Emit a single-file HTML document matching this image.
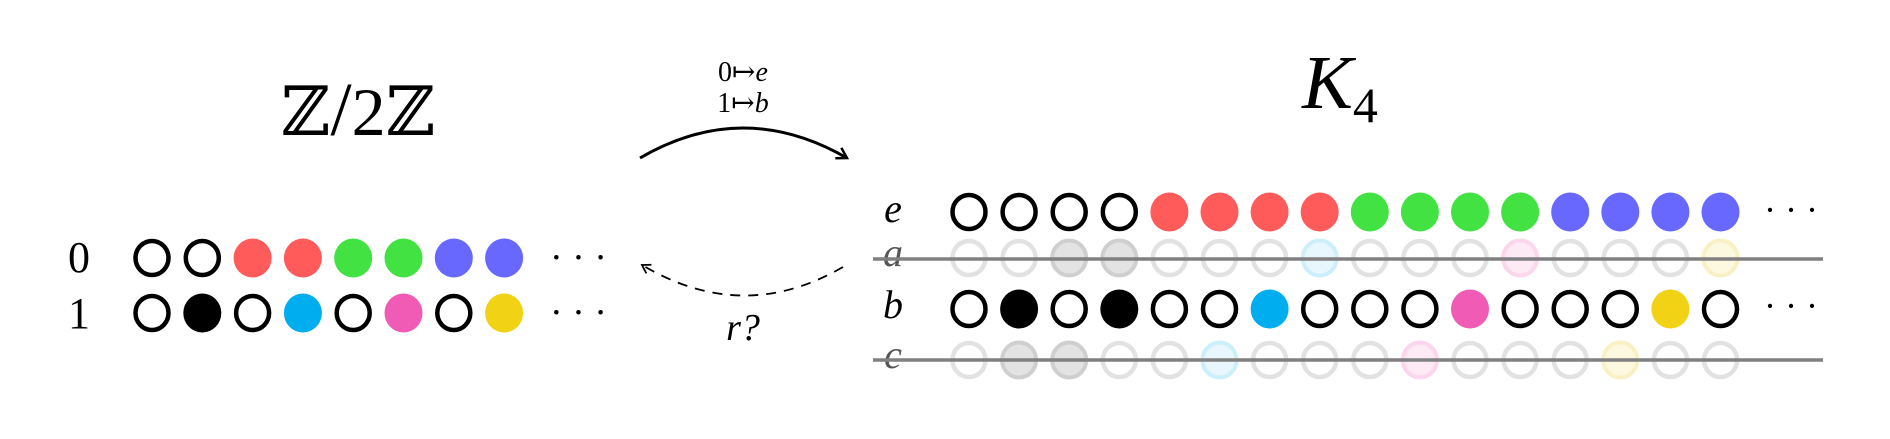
<!DOCTYPE html>
<html><head><meta charset="utf-8"><style>
html,body{margin:0;padding:0;background:#fff;}
svg{display:block;}
text{font-family:"Liberation Serif","DejaVu Serif",serif;}
</style></head><body>
<svg width="1890" height="439" viewBox="0 0 1890 439" xmlns="http://www.w3.org/2000/svg">
<defs>
<marker id="ah" markerWidth="16" markerHeight="16" refX="13" refY="8" orient="auto" markerUnits="userSpaceOnUse">
<path d="M3,2 L13,8 L3,14" fill="none" stroke="#000" stroke-width="2.5"/>
</marker>
<marker id="ah2" markerWidth="14" markerHeight="14" refX="11" refY="7" orient="auto" markerUnits="userSpaceOnUse">
<path d="M3,2 L11,7 L3,12" fill="none" stroke="#000" stroke-width="1.8"/>
</marker>
</defs>

<text x="358" y="135" font-size="68" text-anchor="middle" font-family="DejaVu Serif,serif">ℤ<tspan font-family="Liberation Serif,serif" font-size="76">/</tspan>2ℤ</text>
<text x="1340" y="108" font-size="76" font-style="italic" text-anchor="middle">K<tspan font-size="50" font-style="normal" dy="14">4</tspan></text>

<path d="M640,158 Q743,98 847,158" fill="none" stroke="#000" stroke-width="3" marker-end="url(#ah)"/>
<text x="743" y="81" font-size="28" text-anchor="middle">0↦<tspan font-style="italic">e</tspan></text>
<text x="743" y="112" font-size="28" text-anchor="middle">1↦<tspan font-style="italic">b</tspan></text>
<path d="M843,267 Q743,325 642,265" fill="none" stroke="#000" stroke-width="1.8" stroke-dasharray="10,8" marker-end="url(#ah2)"/>
<text x="743" y="340" font-size="38" text-anchor="middle" font-style="italic">r?</text>

<text x="79" y="272" font-size="44" text-anchor="middle">0</text>
<text x="79" y="328" font-size="44" text-anchor="middle">1</text>
<g id="left"></g>
<g font-size="38"><text x="550" y="270">· · ·</text><text x="550" y="325">· · ·</text></g>

<g font-size="40" font-style="italic" text-anchor="middle">
<text x="893" y="222">e</text>
<text x="893" y="266" fill="#555">a</text>
<text x="893" y="318">b</text>
<text x="893" y="368" fill="#555">c</text>
</g>
<g id="right"></g>
<g font-size="36"><text x="1764" y="222">· · ·</text><text x="1764" y="318">· · ·</text></g>
<line x1="873" y1="259" x2="1823" y2="259" stroke="#808080" stroke-width="3.5"/>
<line x1="873" y1="360" x2="1823" y2="360" stroke="#808080" stroke-width="3.5"/>
</svg>
<script>
var C={K:'#000',R:'#ff5b5b',G:'#41e241',B:'#6868ff',C:'#00adef',P:'#ef5bb5',Y:'#f2d215'};
var F={g:['#e3e3e3','#cfcfcf'],c:['#e8f7fd','#cdeffb'],p:['#fdeaf5','#fbd6ec'],y:['#fdf8e0','#f9f0c4']};
function row(g,x0,dx,y,s){var h='';for(var i=0;i<s.length;i++){var x=x0+i*dx,k=s[i];
 if(k==='o')h+='<ellipse cx="'+x+'" cy="'+y+'" rx="16.5" ry="17" fill="#fff" stroke="#000" stroke-width="4.5"/>';
 else h+='<ellipse cx="'+x+'" cy="'+y+'" rx="19" ry="19.5" fill="'+C[k]+'"/>';}
 g.insertAdjacentHTML('beforeend',h);}
function frow(g,x0,dx,y,s){var h='';for(var i=0;i<s.length;i++){var x=x0+i*dx,k=s[i];
 if(k==='o')h+='<ellipse cx="'+x+'" cy="'+y+'" rx="16.5" ry="17" fill="#fff" stroke="#e2e2e2" stroke-width="4.5"/>';
 else h+='<ellipse cx="'+x+'" cy="'+y+'" rx="17" ry="17.5" fill="'+F[k][0]+'" stroke="'+F[k][1]+'" stroke-width="4"/>';}
 g.insertAdjacentHTML('beforeend',h);}
var L=document.getElementById('left'),R=document.getElementById('right');
row(L,152,50.3,258,'ooRRGGBB');
row(L,152,50.3,313,'oKoCoPoY');
row(R,969,50.1,212,'ooooRRRRGGGGBBBB');
frow(R,969,50.1,258,'ooggooocooopoooy');
row(R,969,50.1,309,'oKoKooCoooPoooYo');
frow(R,969,50.1,360,'oggoocooopoooyoo');
</script>
</body></html>
